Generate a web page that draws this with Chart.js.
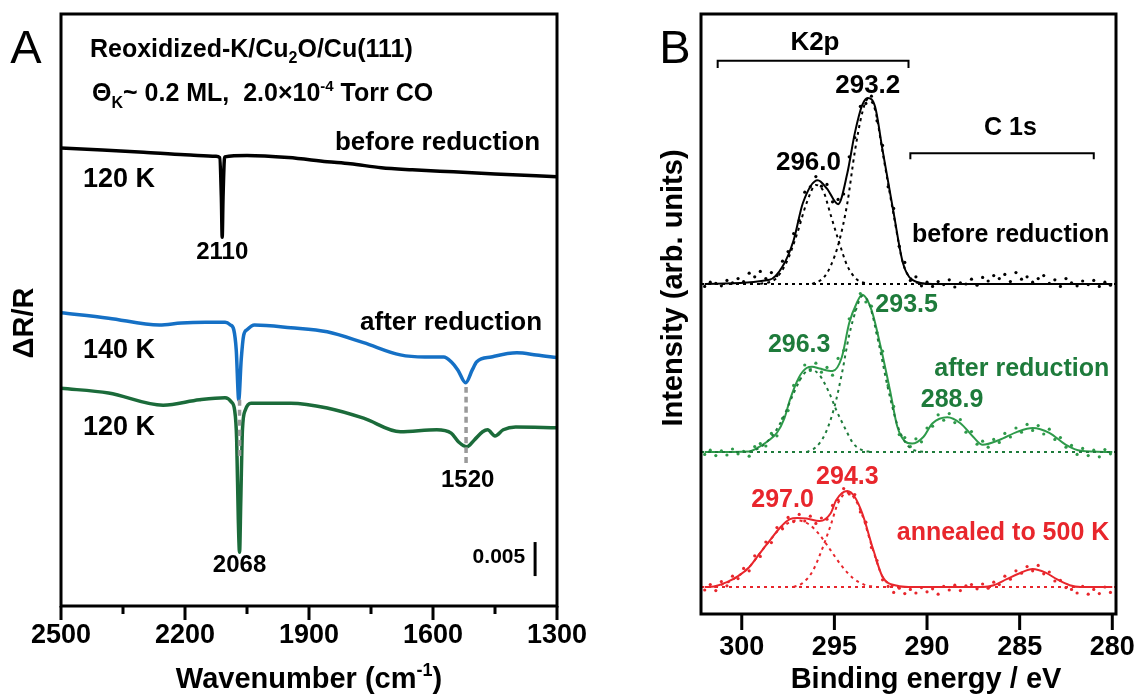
<!DOCTYPE html>
<html>
<head>
<meta charset="utf-8">
<script src="https://cdn.jsdelivr.net/npm/chart.js@4.4.1/dist/chart.umd.min.js"></script>
<style>
  html, body { margin: 0; padding: 0; background: #fff; }
  #wrap { position: relative; width: 1134px; height: 698px; }
  #irChart { position: absolute; left: 0; top: 0; width: 640px; height: 698px; }
  #xpsChart { position: absolute; left: 640px; top: 0; width: 494px; height: 698px; }
</style>
</head>
<body>
<div id="wrap">
  <canvas id="irChart" width="640" height="698"></canvas>
  <canvas id="xpsChart" width="494" height="698"></canvas>
</div>
<script>
// ---------- panel A : IRRAS, dR/R (x1e-3) vs wavenumber ----------
const WN_TICKS = [2500, 2200, 1900, 1600, 1300];
const WN_MINOR = [2350, 2050, 1750, 1450];

const WN_BEFORE = [2500, 2400, 2300, 2200, 2125, 2116, 2112, 2110, 2108, 2104, 2050, 1950, 1856, 1800, 1725, 1650, 1550, 1450, 1300];
const DR_BEFORE = [67.3, 67.0, 66.7, 66.3, 66.1, 65.9, 60.0, 54.2, 60.0, 66.0, 66.2, 65.9, 65.3, 65.0, 64.4, 64.1, 63.8, 63.5, 63.1];

const WN_140K = [2500, 2385, 2262, 2209, 2150, 2103, 2090, 2082, 2076, 2070, 2064, 2058, 2050, 2032, 1944, 1856, 1768, 1679, 1620, 1574, 1556, 1540, 1521, 1505, 1494, 1459, 1397, 1350, 1300];
const DR_140K = [43.1, 42.3, 41.3, 41.6, 41.7, 41.7, 41.3, 40.6, 37.6, 30.3, 36.2, 39.8, 40.6, 41.3, 40.9, 40.3, 38.7, 36.9, 36.6, 36.6, 35.9, 34.7, 32.8, 34.7, 35.9, 36.6, 37.2, 36.9, 36.5];

const WN_120K = [2500, 2385, 2253, 2165, 2103, 2088, 2080, 2075, 2071, 2068, 2065, 2061, 2054, 2040, 1944, 1856, 1768, 1679, 1591, 1556, 1538, 1518, 1500, 1480, 1468, 1450, 1430, 1400, 1300];
const DR_120K = [32.0, 31.3, 29.5, 30.3, 30.6, 30.0, 28.8, 24.4, 12.6, 7.9, 15.6, 25.9, 28.8, 29.8, 29.8, 29.1, 27.6, 25.6, 25.9, 25.4, 24.1, 23.4, 24.4, 25.6, 25.9, 25.0, 25.9, 26.3, 26.2];

// peak guides and the 0.005 scale bar (5 units)
const GUIDE_2068 = [30.3, 21.9];
const GUIDE_1520 = [32.2, 21.0];
const SCALE_BAR = [4.4, 9.4];

// ---------- panel B : XPS intensity vs binding energy ----------
const BE_TICKS = [300, 295, 290, 285, 280];

const BE_FIT_K = [302.0, 298.5, 297.8, 297.2, 296.7, 295.9, 295.4, 294.8, 294.3, 293.9, 293.5, 293.2, 292.8, 292.4, 291.8, 291.3, 290.8, 289.7, 280.0];
const FIT_BEFORE = [55.0, 55.7, 57.9, 62.3, 68.5, 72.3, 70.9, 68.3, 73.5, 80.1, 84.8, 86.0, 84.5, 77.3, 66.8, 58.5, 55.7, 55.0, 55.0];
const BE_CMP_K1 = [299.0, 298.2, 297.6, 297.0, 296.5, 296.0, 295.6, 295.2, 294.75, 294.3, 293.8, 293.2];
const CMP_BEFORE_A = [55.0, 55.8, 58.5, 63.5, 68.5, 71.5, 70.5, 66.5, 62.0, 58.0, 55.8, 55.0];
const BE_CMP_K2 = [296.2, 295.6, 295.2, 294.75, 294.3, 293.9, 293.5, 293.2, 292.8, 292.4, 291.8, 291.3, 290.8, 290.2];
const CMP_BEFORE_B = [55.0, 56.0, 58.0, 62.0, 68.5, 77.0, 83.5, 85.8, 84.0, 77.0, 66.5, 58.5, 55.7, 55.0];

const BE_FIT_G = [302.0, 299.6, 299.2, 298.6, 298.1, 297.7, 297.4, 296.9, 296.5, 296.2, 295.8, 295.1, 294.6, 294.2, 293.8, 293.5, 293.0, 292.5, 292.0, 291.6, 291.2, 290.8, 290.2, 289.7, 288.9, 288.2, 287.5, 287.0, 286.1, 285.1, 284.3, 283.4, 282.5, 281.7, 280.0];
const FIT_AFTER = [27.0, 27.1, 27.6, 28.8, 30.2, 32.6, 35.7, 39.5, 41.0, 41.2, 40.9, 40.5, 42.8, 48.5, 51.8, 53.2, 50.7, 44.5, 37.3, 31.2, 28.8, 28.4, 29.5, 31.8, 32.8, 31.8, 29.5, 28.2, 29.0, 30.4, 31.0, 30.2, 28.2, 27.2, 27.0];
const BE_CMP_G1 = [299.6, 299.0, 298.4, 297.8, 297.2, 296.7, 296.3, 295.8, 295.3, 294.9, 294.4, 294.0, 293.5, 293.0];
const CMP_AFTER_A = [27.0, 27.8, 29.5, 32.5, 36.8, 39.8, 40.8, 39.8, 37.0, 34.0, 30.8, 28.5, 27.3, 27.0];
const BE_CMP_G2 = [296.5, 296.0, 295.5, 295.0, 294.6, 294.2, 293.8, 293.5, 293.1, 292.6, 292.1, 291.6, 291.1, 290.6, 290.0];
const CMP_AFTER_B = [27.0, 27.8, 30.0, 34.5, 40.0, 46.5, 51.0, 53.0, 51.5, 45.0, 37.5, 31.5, 28.3, 27.2, 27.0];

const BE_FIT_R = [302.0, 301.5, 300.8, 300.2, 299.6, 299.1, 298.6, 297.9, 297.4, 297.0, 296.5, 295.8, 295.2, 294.9, 294.3, 293.9, 293.5, 292.9, 292.4, 291.6, 291.0, 287.0, 286.4, 285.7, 285.0, 284.3, 283.6, 283.0, 282.3, 281.7, 280.0];
const FIT_ANNEAL = [4.5, 4.6, 5.3, 6.3, 7.8, 9.8, 11.8, 14.5, 15.8, 16.0, 15.9, 15.5, 16.8, 19.0, 20.5, 19.5, 16.8, 10.7, 6.2, 4.7, 4.5, 4.5, 4.8, 5.8, 6.8, 7.5, 6.9, 5.8, 4.8, 4.5, 4.5];
const BE_CMP_R1 = [301.5, 300.8, 300.2, 299.6, 299.1, 298.6, 297.9, 297.0, 296.4, 295.8, 295.2, 294.6, 294.0, 293.4, 292.8];
const CMP_ANNEAL_A = [4.5, 5.2, 6.3, 7.8, 9.8, 11.8, 14.3, 15.6, 15.0, 13.2, 10.6, 8.0, 6.0, 4.9, 4.5];
const BE_CMP_R2 = [297.2, 296.7, 296.2, 295.7, 295.2, 294.8, 294.3, 293.9, 293.5, 292.9, 292.4, 291.9, 291.4];
const CMP_ANNEAL_B = [4.5, 5.2, 7.0, 10.5, 14.8, 18.5, 20.2, 19.2, 16.5, 10.5, 6.2, 4.8, 4.5];

const BE_EDGES = [302.2, 279.8];
const BASE_BEFORE = [55.0, 55.0];
const BASE_AFTER = [27.0, 27.0];
const BASE_ANNEAL = [4.5, 4.5];

// measured points
const BE_RAW = [
  302.0, 301.7, 301.4, 301.1, 300.8, 300.5, 300.2, 299.9, 299.6, 299.3,
  299.0, 298.7, 298.4, 298.1, 297.8, 297.5, 297.2, 296.9, 296.6, 296.3,
  296.0, 295.7, 295.4, 295.1, 294.8, 294.5, 294.2, 293.9, 293.6, 293.3,
  293.0, 292.7, 292.4, 292.1, 291.8, 291.5, 291.2, 290.9, 290.6, 290.3,
  290.0, 289.7, 289.4, 289.1, 288.8, 288.5, 288.2, 287.9, 287.6, 287.3,
  287.0, 286.7, 286.4, 286.1, 285.8, 285.5, 285.2, 284.9, 284.6, 284.3,
  284.0, 283.7, 283.4, 283.1, 282.8, 282.5, 282.2, 281.9, 281.6, 281.3,
  281.0, 280.7, 280.4, 280.1];
const RAW_BEFORE = [
  54.6, 55.3, 55.1, 54.7, 55.6, 55.2, 55.9, 55.4, 56.8, 56.2,
  57.1, 55.9, 56.9, 56.4, 58.8, 60.4, 63.4, 65.6, 70.3, 71.2,
  72.9, 71.3, 71.6, 68.7, 69.1, 70.0, 76.2, 79.4, 84.6, 85.1,
  86.3, 82.2, 78.1, 71.2, 67.6, 61.3, 58.6, 55.6, 56.2, 54.7,
  55.3, 54.6, 55.4, 54.9, 55.7, 54.5, 55.2, 55.0, 55.8, 54.8,
  56.1, 55.5, 56.4, 55.9, 56.6, 55.4, 56.9, 55.8, 56.2, 55.3,
  55.9, 56.4, 55.1, 55.7, 54.6, 55.9, 55.2, 54.7, 55.5, 54.9,
  55.6, 54.6, 55.3, 54.8];
const RAW_AFTER = [
  26.6, 27.3, 26.4, 27.2, 26.5, 27.5, 26.7, 27.1, 26.3, 27.9,
  28.4, 28.0, 30.1, 29.7, 32.6, 33.9, 38.1, 39.0, 41.5, 40.6,
  41.8, 40.3, 41.1, 39.8, 42.6, 43.9, 49.2, 50.6, 53.4, 52.0,
  51.3, 46.9, 43.8, 38.1, 34.6, 29.9, 29.4, 27.9, 29.2, 28.7,
  31.0, 31.3, 33.2, 32.3, 33.4, 31.9, 32.4, 30.3, 30.4, 28.3,
  28.8, 27.8, 29.1, 28.6, 30.1, 29.5, 31.0, 30.3, 31.6, 30.6,
  31.4, 30.0, 30.8, 29.1, 29.4, 27.8, 28.1, 26.6, 27.6, 26.4,
  27.3, 26.2, 27.4, 26.7];
const RAW_ANNEAL = [
  4.0, 4.9, 3.9, 5.4, 4.7, 6.3, 5.9, 7.6, 7.2, 9.7,
  9.6, 12.0, 11.9, 14.4, 14.2, 16.1, 15.4, 16.6, 15.5, 16.3,
  15.1, 16.0, 15.8, 18.1, 19.0, 20.9, 20.0, 19.9, 17.0, 15.3,
  11.1, 8.9, 5.7, 4.6, 3.6, 4.3, 3.4, 4.1, 3.5, 4.4,
  3.7, 4.2, 3.3, 4.6, 4.0, 4.8, 3.9, 4.7, 4.9, 4.2,
  5.0, 4.3, 5.3, 4.9, 6.3, 5.8, 7.2, 6.8, 7.9, 7.2,
  8.1, 6.7, 7.0, 5.5, 5.6, 4.4, 4.1, 3.5, 4.6, 3.3,
  4.1, 3.4, 4.5, 3.6];

const FONT = '"Liberation Sans", Arial, Helvetica, sans-serif';
const BLUE = '#1570c5', DKGREEN = '#1b6b3a';
const GREEN = '#2e9a4a', GREEN_TXT = '#1e7b3b', RED = '#e8262c';

const f = (size, weight) => `${weight || 'bold'} ${size}px ${FONT}`;
const pts = (xs, ys) => xs.map((x, i) => ({ x, y: ys[i] }));

function label(chart, text, x, y, font, color, align) {
  const { ctx, scales } = chart;
  ctx.save();
  ctx.font = font;
  ctx.fillStyle = color || '#000';
  ctx.textAlign = align || 'center';
  ctx.textBaseline = 'middle';
  ctx.fillText(text, scales.x.getPixelForValue(x), scales.y.getPixelForValue(y));
  ctx.restore();
}

// text built from runs: [string, size, baseline shift] for sub/superscripts
function runs(ctx, parts, x, y, align) {
  ctx.save();
  let w = 0;
  parts.forEach(p => { ctx.font = f(p[1]); w += ctx.measureText(p[0]).width; });
  let cx = align === 'left' ? x : x - w / 2;
  ctx.fillStyle = '#000';
  ctx.textAlign = 'left';
  ctx.textBaseline = 'alphabetic';
  parts.forEach(p => {
    ctx.font = f(p[1]);
    ctx.fillText(p[0], cx, y + (p[2] || 0));
    cx += ctx.measureText(p[0]).width;
  });
  ctx.restore();
}

function vtext(ctx, text, x, y, font) {
  ctx.save();
  ctx.translate(x, y);
  ctx.rotate(-Math.PI / 2);
  ctx.font = font;
  ctx.fillStyle = '#000';
  ctx.textAlign = 'center';
  ctx.textBaseline = 'middle';
  ctx.fillText(text, 0, 0);
  ctx.restore();
}

function frame(chart, major, minor, majLen, minLen) {
  const { ctx, chartArea: a, scales: { x } } = chart;
  ctx.save();
  ctx.strokeStyle = '#000';
  ctx.lineWidth = 3;
  ctx.strokeRect(a.left, a.top, a.right - a.left, a.bottom - a.top);
  ctx.beginPath();
  major.forEach(v => { const px = x.getPixelForValue(v); ctx.moveTo(px, a.bottom); ctx.lineTo(px, a.bottom + majLen); });
  minor.forEach(v => { const px = x.getPixelForValue(v); ctx.moveTo(px, a.bottom); ctx.lineTo(px, a.bottom + minLen); });
  ctx.stroke();
  ctx.restore();
}

function xAxis(min, max, ticks, height, pad) {
  return {
    type: 'linear', reverse: true, min, max,
    afterBuildTicks: s => { s.ticks = ticks.map(v => ({ value: v })); },
    afterFit: s => { s.height = height; s.paddingLeft = 0; s.paddingRight = 0; },
    grid: { display: false, drawTicks: false },
    border: { display: false },
    ticks: {
      padding: pad, color: '#000', maxRotation: 0, autoSkip: false,
      callback: v => String(v),
      font: { family: FONT, size: 27, weight: 'bold' }
    }
  };
}

const common = {
  responsive: false,
  animation: false,
  devicePixelRatio: 1,
  plugins: { legend: { display: false }, tooltip: { enabled: false } }
};

const line = (data, color, width, extra) => Object.assign({
  data, borderColor: color, borderWidth: width, pointRadius: 0,
  cubicInterpolationMode: 'monotone', fill: false, order: 2
}, extra || {});

// ---------- panel A ----------
const irDecor = {
  id: 'irDecor',
  afterDatasetsDraw(c) {
    const { ctx, chartArea: a, scales: { x, y } } = c;
    frame(c, WN_TICKS, WN_MINOR, 14, 8);

    runs(ctx, [['Reoxidized-K/Cu', 25], ['2', 16, 6], ['O/Cu(111)', 25]], x.getPixelForValue(2430), y.getPixelForValue(82.0) + 9, 'left');
    runs(ctx, [['\u0398', 25], ['K', 16, 7], ['~ 0.2 ML,  2.0\u00d710', 25], ['-4', 15, -10], [' Torr CO', 25]],
      x.getPixelForValue(2425), y.getPixelForValue(75.6) + 9, 'left');

    label(c, 'before reduction', 1341, 68.1, f(26), '#000', 'right');
    label(c, '120 K', 2447, 62.6, f(27), '#000', 'left');
    label(c, '2110', 2110, 52.0, f(24));
    label(c, 'after reduction', 1336, 41.6, f(26), '#000', 'right');
    label(c, '140 K', 2447, 37.6, f(27), '#000', 'left');
    label(c, '120 K', 2447, 26.2, f(27), '#000', 'left');
    label(c, '2068', 2068, 6.0, f(24));
    label(c, '1520', 1516, 18.5, f(24));
    label(c, '0.005', 1377, 7.2, f(21), '#000', 'right');

    vtext(ctx, '\u0394R/R', 25, 323, f(29));
    runs(ctx, [['Wavenumber (cm', 29], ['-1', 18, -12], [')', 29]], (a.left + a.right) / 2, 688);

    ctx.save();
    ctx.font = f(47, 'normal');
    ctx.fillStyle = '#000';
    ctx.textAlign = 'center';
    ctx.textBaseline = 'middle';
    ctx.fillText('A', 26, 50);
    ctx.restore();
  }
};

new Chart(document.getElementById('irChart'), {
  type: 'line',
  data: {
    datasets: [
      line(pts(WN_BEFORE, DR_BEFORE), '#000', 3.5),
      line(pts(WN_140K, DR_140K), BLUE, 3.5),
      line(pts(WN_120K, DR_120K), DKGREEN, 3.5),
      line(pts([2068, 2068], GUIDE_2068), '#9a9a9a', 3.5, { borderDash: [6, 4], order: 0 }),
      line(pts([1520, 1520], GUIDE_1520), '#9a9a9a', 3.5, { borderDash: [6, 4], order: 0 }),
      line(pts([1353, 1353], SCALE_BAR), '#000', 3, { order: 0 })
    ]
  },
  options: Object.assign({}, common, {
    layout: { padding: { left: 61, right: 83, top: 14, bottom: 0 } },
    scales: {
      x: xAxis(1300, 2500, WN_TICKS, 92, 13),
      y: { display: false, min: 0, max: 87 }
    }
  }),
  plugins: [irDecor]
});

// ---------- panel B ----------
function bracket(c, from, to, yv, drop) {
  const { ctx, scales: { x, y } } = c;
  const x1 = x.getPixelForValue(from), x2 = x.getPixelForValue(to);
  const py = y.getPixelForValue(yv), pd = y.getPixelForValue(yv - drop);
  ctx.save();
  ctx.strokeStyle = '#000';
  ctx.lineWidth = 2;
  ctx.beginPath();
  ctx.moveTo(x1, pd); ctx.lineTo(x1, py); ctx.lineTo(x2, py); ctx.lineTo(x2, pd);
  ctx.stroke();
  ctx.restore();
}

const xpsDecor = {
  id: 'xpsDecor',
  afterDatasetsDraw(c) {
    const { ctx } = c;
    frame(c, BE_TICKS, [], 16, 0);

    bracket(c, 301.3, 291.0, 92.2, 1.2);
    bracket(c, 290.9, 281.0, 76.8, 1.0);
    label(c, 'K2p', 296.05, 95.2, f(26));
    label(c, 'C 1s', 285.5, 81.0, f(25));

    label(c, '293.2', 293.2, 88.0, f(26));
    label(c, '296.0', 296.4, 75.2, f(26));
    label(c, 'before reduction', 280.16, 63.2, f(25), '#000', 'right');

    label(c, '296.3', 296.9, 44.8, f(25), GREEN_TXT);
    label(c, '293.5', 291.1, 51.5, f(25), GREEN_TXT);
    label(c, '288.9', 288.65, 35.7, f(25), GREEN_TXT);
    label(c, 'after reduction', 280.16, 40.8, f(25), GREEN_TXT, 'right');

    label(c, '297.0', 297.8, 19.0, f(25), RED);
    label(c, '294.3', 294.3, 22.8, f(25), RED);
    label(c, 'annealed to 500 K', 280.16, 13.5, f(25), RED, 'right');

    vtext(ctx, 'Intensity (arb. units)', 34, 288, f(29));
    ctx.save();
    ctx.font = f(29);
    ctx.fillStyle = '#000';
    ctx.textAlign = 'center';
    ctx.textBaseline = 'middle';
    ctx.fillText('Binding energy / eV', 286, 680);
    ctx.font = f(47, 'normal');
    ctx.fillText('B', 35, 50);
    ctx.restore();
  }
};

const dots = (ys, color) => ({
  data: pts(BE_RAW, ys), showLine: false, pointRadius: 1.6, pointBorderWidth: 0,
  pointBackgroundColor: color, borderColor: color, order: 3
});
const dash = (xs, ys, color) => line(pts(xs, ys), color, 2, { borderDash: [3, 4] });

new Chart(document.getElementById('xpsChart'), {
  type: 'line',
  data: {
    datasets: [
      dots(RAW_BEFORE, '#000'),
      dash(BE_EDGES, BASE_BEFORE, '#000'),
      dash(BE_CMP_K1, CMP_BEFORE_A, '#000'),
      dash(BE_CMP_K2, CMP_BEFORE_B, '#000'),
      line(pts(BE_FIT_K, FIT_BEFORE), '#000', 2),

      dots(RAW_AFTER, GREEN),
      dash(BE_EDGES, BASE_AFTER, GREEN_TXT),
      dash(BE_CMP_G1, CMP_AFTER_A, GREEN_TXT),
      dash(BE_CMP_G2, CMP_AFTER_B, GREEN_TXT),
      line(pts(BE_FIT_G, FIT_AFTER), GREEN, 2),

      dots(RAW_ANNEAL, RED),
      dash(BE_EDGES, BASE_ANNEAL, RED),
      dash(BE_CMP_R1, CMP_ANNEAL_A, RED),
      dash(BE_CMP_R2, CMP_ANNEAL_B, RED),
      line(pts(BE_FIT_R, FIT_ANNEAL), RED, 2)
    ]
  },
  options: Object.assign({}, common, {
    layout: { padding: { left: 61, right: 18, top: 14, bottom: 0 } },
    scales: {
      x: xAxis(279.8, 302.2, BE_TICKS, 84, 17),
      y: { display: false, min: 0, max: 100 }
    }
  }),
  plugins: [xpsDecor]
});
</script>
</body>
</html>
